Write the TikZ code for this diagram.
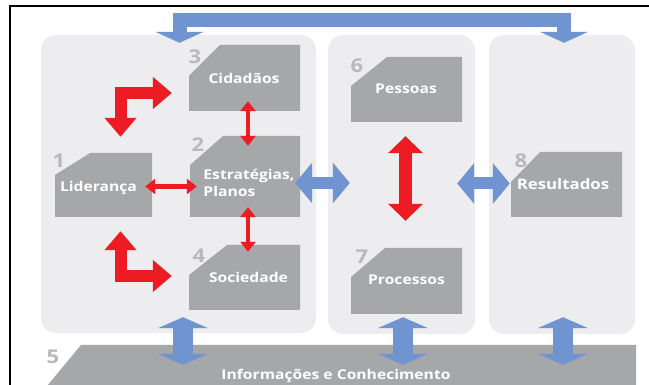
\documentclass[tikz,border=0pt]{standalone}
\usepackage{fontspec}
\setmainfont{Open Sans}[FakeStretch=1.16]
\usetikzlibrary{arrows.meta,calc}
\definecolor{panelgray}{HTML}{EDEDEF}
\definecolor{boxgray}{HTML}{A6A7A9}
\definecolor{numgray}{HTML}{B8B9BB}
\definecolor{arrred}{HTML}{ED1C24}
\definecolor{arrblue}{HTML}{7094D0}
\begin{document}
\begin{tikzpicture}[x=1pt,y=-1pt,
 panel/.style={draw=none,fill=panelgray,rounded corners=15pt,inner sep=0pt},
 boxarea/.style={draw=none,inner sep=0pt},
 boxtext/.style={text=white,font=\fontsize{13.5}{17}\selectfont\bfseries,inner sep=0pt,align=left},
 num/.style={text=numgray,font=\fontsize{19}{19}\selectfont\bfseries,inner sep=0pt},
 redthin/.style={draw=arrred,line width=4.5pt,{Triangle[width=15pt,length=10pt]}-{Triangle[width=15pt,length=10pt]}},
 redbig/.style={draw=arrred,line width=13pt,{Triangle[width=34pt,length=17pt]}-{Triangle[width=34pt,length=17pt]}},
 redbent/.style={draw=arrred,line width=12pt,line join=miter,{Triangle[width=31pt,length=19pt]}-{Triangle[width=31pt,length=19pt]}},
 bluemid/.style={draw=arrblue,line width=12pt,{Triangle[width=40pt,length=17pt]}-{Triangle[width=40pt,length=17pt]}},
 bluevert/.style={draw=arrblue,line width=20pt,{Triangle[width=50pt,length=11pt]}-{Triangle[width=50pt,length=11pt]}},
 bluetop/.style={draw=arrblue,line width=14pt,line join=miter,{Triangle[width=48pt,length=11pt]}-{Triangle[width=48pt,length=11pt]}},
]
\useasboundingbox (0,0) rectangle (649,385);
\fill[white] (0,0) rectangle (649,385);
% frame
\draw[line width=2.2pt] (10,386) -- (10,6) -- (650,6);

% panels
\node[panel, minimum width=275pt, minimum height=298pt] (pL) at (178.5,184) {};
\node[panel, minimum width=147pt, minimum height=299pt] (pM) at (401.5,184.5) {};
\node[panel, minimum width=146pt, minimum height=299pt] (pR) at (562,184.5) {};

% bottom bar
\fill[boxgray] (47,386) -- (81,345) -- (636,345) -- (636,386) -- cycle;
\node[boxarea, minimum width=560pt, minimum height=62pt] (inf) at (336,376) {};
\node[boxtext] (infT) at (336,376) {Informações e Conhecimento};

% boxes
\fill[boxgray] (90,153) -- (152,153) -- (152,217) -- (55,217) -- (55,175) -- cycle;
\node[boxarea, minimum width=97pt, minimum height=64pt] (lid) at (103.5,185) {};
\node[boxtext] (lidT) at (98.5,188) {Liderança};

\fill[boxgray] (223,136) -- (300,136) -- (300,217) -- (190,217) -- (190,165) -- cycle;
\node[boxarea, minimum width=110pt, minimum height=81pt] (est) at (245,176.5) {};
\node[boxtext] (estT) at (249,183) {Estratégias,\\Planos};

\fill[boxgray] (220,45) -- (300,45) -- (300,111) -- (189,111) -- (189,76) -- cycle;
\node[boxarea, minimum width=111pt, minimum height=66pt] (cid) at (244.5,78) {};
\node[boxtext] (cidT) at (244,78) {Cidadãos};

\fill[boxgray] (227,245) -- (300,245) -- (300,310) -- (189,310) -- (189,275) -- cycle;
\node[boxarea, minimum width=111pt, minimum height=65pt] (soc) at (244.5,277.5) {};
\node[boxtext] (socT) at (248.5,277) {Sociedade};

\fill[boxgray] (387,57) -- (462,57) -- (462,122) -- (351,122) -- (351,86) -- cycle;
\node[boxarea, minimum width=111pt, minimum height=65pt] (pes) at (406.5,89.5) {};
\node[boxtext] (pesT) at (406,89) {Pessoas};

\fill[boxgray] (385,248) -- (462,248) -- (462,314) -- (351,314) -- (351,277) -- cycle;
\node[boxarea, minimum width=111pt, minimum height=66pt] (pro) at (406.5,281) {};
\node[boxtext] (proT) at (406.5,280) {Processos};

\fill[boxgray] (540,152) -- (622,152) -- (622,217) -- (511,217) -- (511,182) -- cycle;
\node[boxarea, minimum width=111pt, minimum height=65pt] (res) at (566.5,184.5) {};
\node[boxtext, font=\fontsize{14.5}{17}\selectfont\bfseries] (resT) at (563,184) {Resultados};

% numbers
\node[num] (n1) at (59,160.5) {1};
\node[num] (n2) at (198,144.5) {2};
\node[num] (n3) at (195,56.5) {3};
\node[num] (n4) at (199,256) {4};
\node[num] (n5) at (53,357) {5};
\node[num] (n6) at (357,66) {6};
\node[num] (n7) at (362,257) {7};
\node[num] (n8) at (521,161) {8};

% red connectors
\draw[redthin] ($(cid.south)+(3.5,-10)$) -- ($(est.north)+(3,10)$);
\draw[redthin] ($(est.south)+(3,-10)$) -- ($(soc.north)+(3.5,7)$);
\draw[redthin] ($(lid.east)+(-7,1.5)$) -- ($(est.west |- lid.east)+(7,1.5)$);
\draw[redbig] ($(pes.south)+(-1,14)$) -- ($(pro.north)+(-1,-27)$);
\draw[redbent] ($(cid.west)+(-17,15)$) -| ($(lid.north)+(17,-16)$);
\draw[redbent] ($(soc.west)+(-17,-1.5)$) -| ($(lid.south)+(17,14)$);

% blue connectors
\draw[bluemid] ($(est.east)+(-5,6.5)$) -- ($(est.east -| pM.west)+(22,6.5)$);
\draw[bluemid] ($(res.west -| pM.east)+(-18,-1)$) -- ($(res.west)+(-1,-1)$);
\draw[bluevert] ($(pL.south)+(4.5,-16)$) -- ($(pL.south |- inf.north)+(4.5,20)$);
\draw[bluevert] ($(pM.south)+(1.5,-17)$) -- ($(pM.south |- inf.north)+(1.5,20)$);
\draw[bluevert] ($(pR.south)+(1,-17)$) -- ($(pR.south |- inf.north)+(1,20)$);
\coordinate (topbar) at (370,20);
\draw[bluetop] ($(pL.north)+(1,8)$) |- (topbar) -| ($(pR.north)+(2,8)$);
\end{tikzpicture}
\end{document}
